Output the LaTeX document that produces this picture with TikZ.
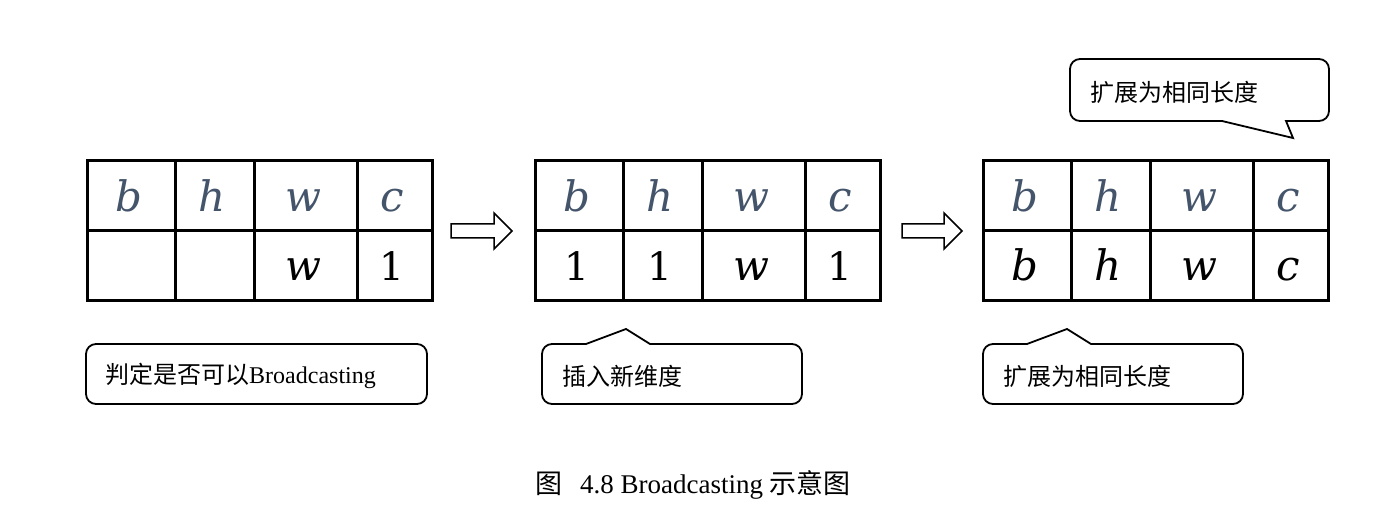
\documentclass[tikz,border=0pt]{standalone}
\usepackage{fontspec}
\setmainfont{Liberation Serif}
\newfontfamily\cjk{Noto Sans CJK SC}
\newfontfamily\letterfont{DejaVu Serif}
\newcommand{\lt}[1]{{\letterfont\itshape #1}}
\newcommand{\one}{{\letterfont\fontsize{39}{39}\selectfont 1}}
\definecolor{hdrcol}{HTML}{44546A}
\tikzset{
  gridline/.style={line width=3pt},
  hdr/.style={anchor=base, text=hdrcol, inner sep=0pt, font=\fontsize{42}{42}\selectfont},
  val/.style={anchor=base, inner sep=0pt, font=\fontsize{42}{42}\selectfont},
  blockarrow/.style={draw, line width=1.5pt, fill=white, line join=miter},
  callout/.style={draw, line width=1.8pt, line join=miter},
  note/.style={anchor=base west, inner sep=0pt, font=\fontsize{24}{24}\selectfont},
  captxt/.style={anchor=base, inner sep=0pt, font=\fontsize{27}{27}\selectfont},
}
\newcommand{\tabgrid}{%
  \draw[gridline] (0,212) rectangle (345,351);
  \draw[gridline] (0,281) -- (345,281);
  \draw[gridline] (88,212) -- (88,351);
  \draw[gridline] (167,212) -- (167,351);
  \draw[gridline] (270,212) -- (270,351);
}
\begin{document}
\begin{tikzpicture}[x=1pt,y=1pt]
\useasboundingbox (0,0) rectangle (1397,512);
% table 1
\begin{scope}[xshift=87pt]
  \tabgrid
  \node[hdr] (t1h1) at (42,300) {\lt{b}};
  \node[hdr] (t1h2) at (125.5,300) {\lt{h}};
  \node[hdr] (t1h3) at (216.5,300) {\lt{w}};
  \node[hdr] (t1h4) at (305.5,300) {\lt{c}};
  \node[val] (t1v3) at (216.5,231) {\lt{w}};
  \node[val] (t1v4) at (305,231) {\one};
  \coordinate (a1) at (364,281);
\end{scope}
% table 2
\begin{scope}[xshift=535pt]
  \tabgrid
  \node[hdr] (t2h1) at (42,300) {\lt{b}};
  \node[hdr] (t2h2) at (125.5,300) {\lt{h}};
  \node[hdr] (t2h3) at (216.5,300) {\lt{w}};
  \node[hdr] (t2h4) at (305.5,300) {\lt{c}};
  \node[val] (t2v1) at (42,231) {\one};
  \node[val] (t2v2) at (125,231) {\one};
  \node[val] (t2v3) at (216.5,231) {\lt{w}};
  \node[val] (t2v4) at (305,231) {\one};
  \coordinate (a2) at (367,281);
\end{scope}
% table 3
\begin{scope}[xshift=983pt]
  \tabgrid
  \node[hdr] (t3h1) at (42,300) {\lt{b}};
  \node[hdr] (t3h2) at (125.5,300) {\lt{h}};
  \node[hdr] (t3h3) at (216.5,300) {\lt{w}};
  \node[hdr] (t3h4) at (305.5,300) {\lt{c}};
  \node[val] (t3v1) at (42,231) {\lt{b}};
  \node[val] (t3v2) at (125.5,231) {\lt{h}};
  \node[val] (t3v3) at (216.5,231) {\lt{w}};
  \node[val] (t3v4) at (305.5,231) {\lt{c}};
\end{scope}
% block arrows
\draw[blockarrow] (a1) ++(0,7) -- ++(43,0) -- ++(0,11) -- ++(18,-18) -- ++(-18,-18) -- ++(0,11) -- ++(-43,0) -- cycle;
\draw[blockarrow] (a2) ++(0,7) -- ++(42,0) -- ++(0,11) -- ++(18,-18) -- ++(-18,-18) -- ++(0,11) -- ++(-42,0) -- cycle;
% callout 1
\draw[callout] (96,168) -- (417,168) arc[start angle=90,end angle=0,radius=10] -- (427,118) arc[start angle=0,end angle=-90,radius=10] -- (96,108) arc[start angle=270,end angle=180,radius=10] -- (86,158) arc[start angle=180,end angle=90,radius=10] -- cycle;
\node[note] (n1) at (105,129) {{\cjk 判定是否可以}Broadcasting};
% callout 2
\draw[callout] (552,168) -- (586,168) -- (626,183) -- (650,168) -- (792,168) arc[start angle=90,end angle=0,radius=10] -- (802,118) arc[start angle=0,end angle=-90,radius=10] -- (552,108) arc[start angle=270,end angle=180,radius=10] -- (542,158) arc[start angle=180,end angle=90,radius=10] -- cycle;
\node[note] (n2) at (562,127) {\cjk 插入新维度};
% callout 3
\draw[callout] (993,168) -- (1027,168) -- (1067,183) -- (1091,168) -- (1233,168) arc[start angle=90,end angle=0,radius=10] -- (1243,118) arc[start angle=0,end angle=-90,radius=10] -- (993,108) arc[start angle=270,end angle=180,radius=10] -- (983,158) arc[start angle=180,end angle=90,radius=10] -- cycle;
\node[note] (n3) at (1003,127) {\cjk 扩展为相同长度};
% top callout
\draw[callout] (1080,453) -- (1319,453) arc[start angle=90,end angle=0,radius=10] -- (1329,401) arc[start angle=0,end angle=-90,radius=10] -- (1286,391) -- (1293,374) -- (1222,391) -- (1080,391) arc[start angle=270,end angle=180,radius=10] -- (1070,443) arc[start angle=180,end angle=90,radius=10] -- cycle;
\node[note] (n4) at (1090,410.5) {\cjk 扩展为相同长度};
% caption
\node[captxt] (cap) at (693,19) {{\cjk 图}\hspace{18pt}4.8 Broadcasting {\cjk 示意图}};
\end{tikzpicture}
\end{document}
